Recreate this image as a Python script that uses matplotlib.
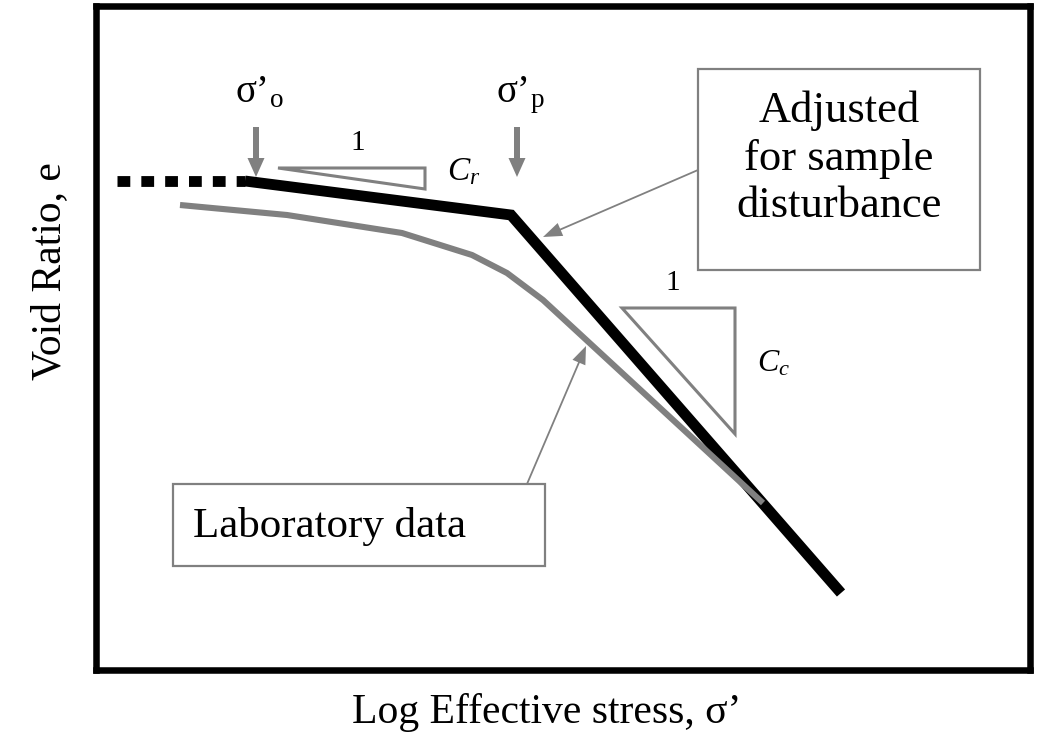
import matplotlib
matplotlib.use("Agg")
import matplotlib.pyplot as plt
from matplotlib.patches import Rectangle, Polygon

plt.rcParams['font.family'] = ['Liberation Serif', 'DejaVu Serif']
plt.rcParams['mathtext.fontset'] = 'custom'
plt.rcParams['mathtext.rm'] = 'Liberation Serif'
plt.rcParams['mathtext.it'] = 'Liberation Serif:italic'

# schematic coordinates (frame units: x = log stress, y = void ratio, downward)
dotted_x = [117, 245]
dotted_y = [181, 181]
adjusted_x = [245, 511, 841]
adjusted_y = [181, 215, 593]
lab_x = [180, 287, 402, 472, 507, 543, 763]
lab_y = [205, 215, 233, 255, 273, 300, 503]

cr_tri = [(278, 168), (425, 168), (425, 189)]
cc_tri = [(622, 308), (735, 308), (735, 434)]

sigma_o_x = 256
sigma_p_x = 517

GRAY = '#808080'

fig = plt.figure(figsize=(10.43, 7.35), dpi=100)
x0, x1, y0, y1 = 96, 1030, 6, 669.5
ax = fig.add_axes([x0 / 1043, (735 - y1) / 735, (x1 - x0) / 1043, (y1 - y0) / 735])
ax.set_xlim(x0, x1)
ax.set_ylim(y1, y0)
ax.set_xticks([])
ax.set_yticks([])
for s in ax.spines.values():
    s.set_linewidth(4.7)
    s.set_color('black')

# curves
dl, = ax.plot(dotted_x, dotted_y, color='black', lw=7.8, solid_capstyle='butt',
              dash_capstyle='butt')
dl.set_dashes((1.18, 1.02))
ax.plot(adjusted_x, adjusted_y, color='black', lw=7.8, solid_capstyle='butt',
        solid_joinstyle='miter')
ax.plot(lab_x, lab_y, color=GRAY, lw=4.4, solid_capstyle='butt',
        solid_joinstyle='miter')

# slope triangles
ax.add_patch(Polygon(cr_tri, closed=True, fill=False, edgecolor=GRAY, lw=2.2))
ax.add_patch(Polygon(cc_tri, closed=True, fill=False, edgecolor=GRAY, lw=2.2))
ax.text(358, 150, '1', fontsize=21, ha='center', va='baseline')
ax.text(673, 290, '1', fontsize=21, ha='center', va='baseline')
ax.text(447, 180, '$C_r$', fontsize=24, ha='left', va='baseline')
ax.text(757, 372, '$C_c$', fontsize=23, ha='left', va='baseline')

# stress markers
for xs, sub in [(sigma_o_x, 'o'), (sigma_p_x, 'p')]:
    ax.arrow(xs, 127, 0, 50, width=6, head_width=17, head_length=19,
             length_includes_head=True, color=GRAY, lw=0)
    ax.text(xs - 21, 102, 'σ’$_\\mathregular{%s}$' % sub, fontsize=28,
            ha='left', va='baseline')

# annotation boxes
ax.add_patch(Rectangle((698, 69), 282, 201, fill=False, edgecolor=GRAY, lw=1.6))
for txt, yb in [('Adjusted', 122), ('for sample', 170), ('disturbance', 217)]:
    ax.text(839, yb, txt, fontsize=32, ha='center', va='baseline')
ax.arrow(698, 170, 543 - 698, 237 - 170, width=1.8, head_width=14, head_length=19,
         length_includes_head=True, color=GRAY, lw=0)

ax.add_patch(Rectangle((173, 484), 372, 82, fill=False, edgecolor=GRAY, lw=1.6))
ax.text(193, 537, 'Laboratory data', fontsize=31, ha='left', va='baseline')
ax.arrow(527, 484, 586 - 527, 346 - 484, width=1.8, head_width=14, head_length=18,
         length_includes_head=True, color=GRAY, lw=0)

# axis titles
ax.text(352, 723, 'Log Effective stress, σ’', fontsize=30, ha='left', va='baseline',
        clip_on=False)
ax.text(60, 380, 'Void Ratio, e', fontsize=30, rotation=90, rotation_mode='anchor',
        ha='left', va='baseline', clip_on=False)

fig.savefig('out.png', dpi=100)
